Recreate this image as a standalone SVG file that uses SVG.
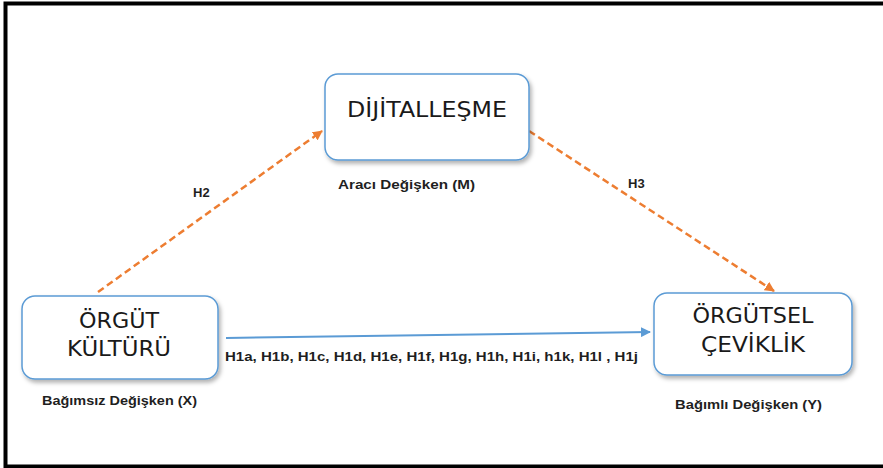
<svg xmlns="http://www.w3.org/2000/svg" width="883" height="468" viewBox="0 0 883 468">
<style>
.box{fill:#ffffff;stroke:#5b9bd5;stroke-width:1.5;filter:url(#sh)}
.big{font-family:"DejaVu Sans",Verdana,sans-serif;font-size:21px;fill:#1a1a1a;text-anchor:middle}
.lbl{font-family:"Liberation Sans",Arial,sans-serif;font-weight:bold;font-size:13px;fill:#1f1f1f}
.dash{fill:none;stroke:#ed7d31;stroke-width:2.5;stroke-dasharray:7 4}
.solid{fill:none;stroke:#5b9bd5;stroke-width:2}
</style>
<defs>
<filter id="sh" x="-10%" y="-10%" width="125%" height="135%">
<feDropShadow dx="2" dy="3" stdDeviation="2" flood-color="#000" flood-opacity="0.3"/>
</filter>
<marker id="ao" viewBox="0 0 10 10" refX="9" refY="5" markerWidth="4" markerHeight="4" orient="auto" markerUnits="strokeWidth">
<path d="M0,0 L10,5 L0,10 z" fill="#ed7d31"/>
</marker>
<marker id="ab" viewBox="0 0 10 10" refX="9" refY="5" markerWidth="5" markerHeight="5" orient="auto" markerUnits="strokeWidth">
<path d="M0,0 L10,5 L0,10 z" fill="#5b9bd5"/>
</marker>
</defs>
<rect width="883" height="468" fill="#ffffff"/>
<path d="M5.5,468 V3.5 H883" fill="none" stroke="#000" stroke-width="4"/>
<path d="M4,466.5 H883" fill="none" stroke="#000" stroke-width="4"/>
<g id="connectors">
<path class="dash" d="M98,292 L322,131" marker-end="url(#ao)"/>
<path class="dash" d="M529,131 L774,291" marker-end="url(#ao)"/>
<path class="solid" d="M226,338 L650,332" marker-end="url(#ab)"/>
<text class="lbl" x="193" y="197">H2</text>
<text class="lbl" x="628" y="188">H3</text>
<text class="lbl" x="225" y="361" textLength="413" lengthAdjust="spacingAndGlyphs">H1a, H1b, H1c, H1d, H1e, H1f, H1g, H1h, H1i, h1k, H1l  , H1j</text>
</g>
<g id="dijitallesme">
<rect class="box" x="325" y="74" width="204" height="86" rx="13"/>
<text class="big" x="427" y="117" textLength="160" lengthAdjust="spacingAndGlyphs">DİJİTALLEŞME</text>
<text class="lbl" x="338" y="189" textLength="137" lengthAdjust="spacingAndGlyphs">Aracı  Değişken (M)</text>
</g>
<g id="orgut-kulturu">
<rect class="box" x="22" y="296" width="196" height="83" rx="13"/>
<text class="big" x="119" y="328" textLength="80" lengthAdjust="spacingAndGlyphs">ÖRGÜT</text>
<text class="big" x="119" y="356" textLength="104" lengthAdjust="spacingAndGlyphs">KÜLTÜRÜ</text>
<text class="lbl" x="42" y="405" textLength="155" lengthAdjust="spacingAndGlyphs">Bağımsız Değişken (X)</text>
</g>
<g id="orgutsel-ceviklik">
<rect class="box" x="654" y="293" width="198" height="82" rx="13"/>
<text class="big" x="753" y="323" textLength="121" lengthAdjust="spacingAndGlyphs">ÖRGÜTSEL</text>
<text class="big" x="753" y="352" textLength="104" lengthAdjust="spacingAndGlyphs">ÇEVİKLİK</text>
<text class="lbl" x="675" y="409" textLength="147" lengthAdjust="spacingAndGlyphs">Bağımlı Değişken (Y)</text>
</g>
</svg>
